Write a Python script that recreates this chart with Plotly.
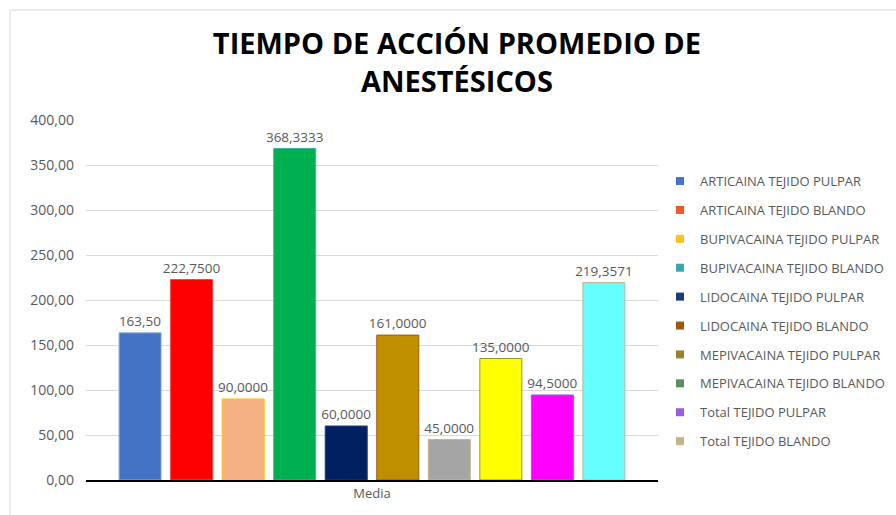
import plotly.graph_objects as go

series_names = [
    "ARTICAINA TEJIDO PULPAR", "ARTICAINA TEJIDO BLANDO",
    "BUPIVACAINA TEJIDO PULPAR", "BUPIVACAINA TEJIDO BLANDO",
    "LIDOCAINA TEJIDO PULPAR", "LIDOCAINA TEJIDO BLANDO",
    "MEPIVACAINA TEJIDO PULPAR", "MEPIVACAINA TEJIDO BLANDO",
    "Total TEJIDO PULPAR", "Total TEJIDO BLANDO",
]
values = [163.50, 222.75, 90.0, 368.3333, 60.0, 161.0, 45.0, 135.0, 94.5, 219.3571]
value_labels = ["163,50", "222,7500", "90,0000", "368,3333", "60,0000",
                "161,0000", "45,0000", "135,0000", "94,5000", "219,3571"]
category = ["Media"]

bar_colors = ["#4472C4", "#FF0000", "#F4B183", "#00B050", "#002060",
              "#BF8F00", "#A5A5A5", "#FFFF00", "#FF00FF", "#66FFFF"]
bar_line_colors = ["#8FAADC", "#FF4040", "#FFC000", "#3CB4A0", "#1F3D7A",
                   "#9E5A10", "#C8B48C", "#8C9A30", "#9B5DE0", "#C8B48C"]
legend_colors = ["#4472C4", "#F05A28", "#FFC020", "#3AA7B0", "#1F3D7A",
                 "#9E5A10", "#9C8230", "#5E8C5E", "#9B5DE0", "#C8B48C"]

fig = go.Figure()
for i, name in enumerate(series_names):
    fig.add_trace(go.Bar(
        x=category, y=[values[i]], name=name, showlegend=False,
        marker=dict(color=bar_colors[i], line=dict(color=bar_line_colors[i], width=1)),
        text=[value_labels[i]], textposition="outside", cliponaxis=False,
        constraintext="none",
        textfont=dict(size=13.5, color="#595959", family="Open Sans"),
        hoverinfo="skip",
    ))
for i, name in enumerate(series_names):
    fig.add_trace(go.Scatter(
        x=[None], y=[None], mode="markers", name=name,
        marker=dict(symbol="square", size=8, color=legend_colors[i]),
        legendgroup=name,
    ))

fig.update_layout(
    width=896, height=515,
    margin=dict(l=86, r=238, t=120, b=35, autoexpand=False),
    paper_bgcolor="white", plot_bgcolor="white",
    separators=",.",
    barmode="group", bargap=0.099, bargroupgap=0.185,
    title=dict(
        text="TIEMPO DE ACCIÓN PROMEDIO DE<br>ANESTÉSICOS",
        x=0.51, xanchor="center", y=0.895, yanchor="top",
        font=dict(family="Open Sans", size=29, color="#000000", weight="bold"),
    ),
    font=dict(family="Open Sans", color="#595959", size=12),
    legend=dict(
        x=1.0035, xanchor="left", y=0.872, yanchor="top",
        traceorder="grouped", tracegroupgap=9,
        font=dict(size=13, color="#595959", family="Open Sans"),
        itemwidth=30,
    ),
    shapes=[
        dict(type="line", xref="paper", yref="paper",
             x0=-76/572, x1=810/572, y0=470/360, y1=470/360,
             line=dict(color="#D9D9D9", width=1)),
        dict(type="line", xref="paper", yref="paper",
             x0=-76/572, x1=-76/572, y0=470/360, y1=-35/360,
             line=dict(color="#D9D9D9", width=1)),
    ],
)
fig.update_yaxes(
    range=[0, 400], dtick=50, tickformat=".2f",
    showgrid=True, gridcolor="#D9D9D9", gridwidth=1,
    zeroline=False, showline=False, ticks="",
    tickfont=dict(size=14, color="#595959"), ticklabelstandoff=11,
)
fig.update_xaxes(
    showline=True, linecolor="#000000", linewidth=2,
    ticks="", tickfont=dict(size=13, color="#595959"),
)

fig.write_html(
    "out.html",
    config={"displayModeBar": False},
    post_script="document.body.style.margin='0';document.body.style.overflow='hidden';",
)
